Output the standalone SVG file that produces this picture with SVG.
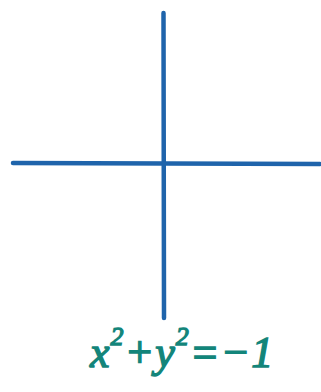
<svg xmlns="http://www.w3.org/2000/svg" width="321" height="392" viewBox="0 0 321 392">
<style>
.axis{stroke:#1f64ab;stroke-width:4.5;stroke-linecap:round;fill:none}
.eq{font-family:"Liberation Serif",serif;font-style:italic;fill:#13857a;stroke:#13857a;stroke-width:1.4;font-size:44px;letter-spacing:1px}
.sup{font-size:26px}
</style>
<rect width="321" height="392" fill="#ffffff"/>
<g id="axes">
<path class="axis" d="M163.5 13 L164 318"/>
<path class="axis" d="M13 163 L320 164"/>
</g>
<g id="equation">
<text class="eq" x="90" y="367">x<tspan class="sup" dy="-22">2</tspan><tspan dy="22">+y</tspan><tspan class="sup" dy="-22">2</tspan><tspan dy="22">=−1</tspan></text>
</g>
</svg>
